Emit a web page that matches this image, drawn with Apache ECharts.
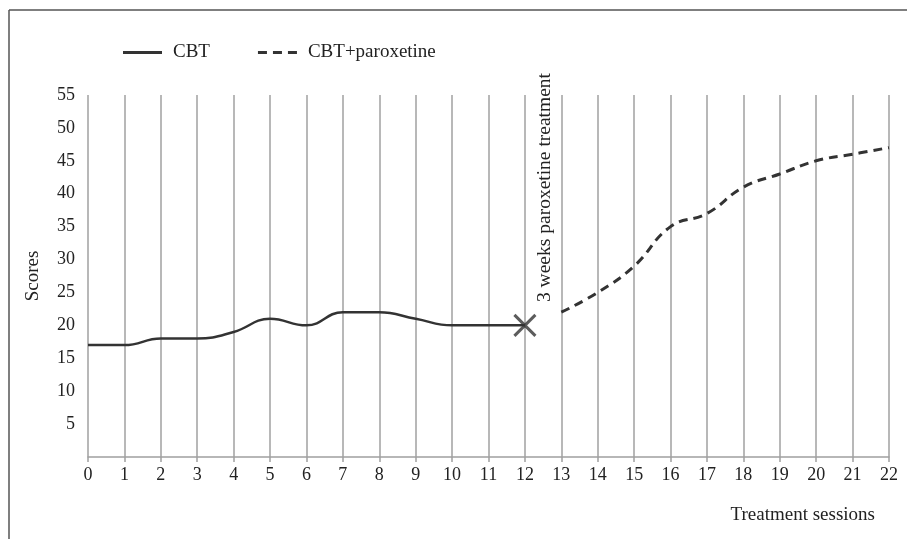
<!DOCTYPE html>
<html>
<head>
<meta charset="utf-8">
<script src="https://cdn.jsdelivr.net/npm/echarts@6/dist/echarts.min.js"></script>
<style>
html,body{margin:0;padding:0;background:#fff;}
#chart{width:907px;height:539px;}
</style>
</head>
<body>
<div id="chart"></div>
<script>
const cbtSessions = [0,1,2,3,4,5,6,7,8,9,10,11,12];
const cbtScores = [17,17,18,18,19,21,20,22,22,21,20,20,20];
const paroxSessions = [13,14,15,16,17,18,19,20,21,22];
const paroxScores = [22,25,29,35,37,41,43,45,46,47];
const markerPoint = [12,20];
const annotationText = '3 weeks paroxetine treatment';

const FONT = '"Liberation Serif", "DejaVu Serif", serif';
const pair = (xs, ys) => xs.map((x, i) => [x, ys[i]]);

const chart = echarts.init(document.getElementById('chart'));
chart.setOption({
  backgroundColor: '#fff',
  animation: false,
  textStyle: {fontFamily: FONT},
  legend: {
    left: 118, top: 38,
    itemWidth: 39, itemHeight: 3, itemGap: 48,
    textStyle: {fontFamily: FONT, fontSize: 19, color: '#222', padding: [0, 0, 0, 6]},
    data: [
      {name: 'CBT', icon: 'path://M0,0h39v3h-39z'},
      {name: 'CBT+paroxetine', icon: 'path://M0,0h9v3h-9zM15,0h9v3h-9zM30,0h9v3h-9z'}
    ]
  },
  grid: {left: 88, right: 18, top: 95, bottom: 82},
  xAxis: {
    type: 'value', min: 0, max: 22, interval: 1,
    axisLine: {show: true, lineStyle: {color: '#a0a0a0', width: 1.5}},
    axisTick: {show: true, length: 5, lineStyle: {color: '#a0a0a0', width: 1.5}},
    axisLabel: {fontFamily: FONT, fontSize: 18, color: '#222', margin: 9},
    splitLine: {show: true, lineStyle: {color: '#a0a0a0', width: 1.5}}
  },
  yAxis: {
    type: 'value', min: 0, max: 55, interval: 5,
    name: 'Scores', nameLocation: 'middle', nameRotate: 90, nameGap: 45,
    nameTextStyle: {fontFamily: FONT, fontSize: 19, color: '#222'},
    axisLine: {show: false}, axisTick: {show: false},
    splitLine: {show: false},
    axisLabel: {fontFamily: FONT, fontSize: 18, color: '#222', margin: 13,
      formatter: v => v === 0 ? '' : String(v)}
  },
  series: [
    {
      name: 'CBT', type: 'line', smooth: 0.45, symbol: 'none',
      lineStyle: {color: '#333', width: 2.5},
      itemStyle: {color: '#333'},
      data: pair(cbtSessions, cbtScores)
    },
    {
      name: 'CBT+paroxetine', type: 'line', smooth: 0.45, symbol: 'none',
      lineStyle: {color: '#333', width: 3, type: [9, 6]},
      itemStyle: {color: '#333'},
      data: pair(paroxSessions, paroxScores)
    },
    {
      name: 'marker', type: 'scatter',
      symbol: 'path://M0,0L10,10M10,0L0,10', symbolSize: 21,
      itemStyle: {color: 'none', borderColor: '#333', borderWidth: 3},
      data: [markerPoint], z: 5
    }
  ],
  graphic: [
    {type: 'line', shape: {x1: 9, y1: 10, x2: 907, y2: 10}, style: {stroke: '#555', lineWidth: 1.5}},
    {type: 'line', shape: {x1: 9, y1: 10, x2: 9, y2: 539}, style: {stroke: '#555', lineWidth: 1.5}},
    {type: 'text', x: 545, y: 302, rotation: Math.PI / 2,
      style: {text: annotationText, fontFamily: FONT, fontSize: 19.5, fill: '#222', textAlign: 'left', textVerticalAlign: 'middle'}},
    {type: 'text', x: 875, y: 515,
      style: {text: 'Treatment sessions', fontFamily: FONT, fontSize: 19, fill: '#222', textAlign: 'right', textVerticalAlign: 'middle'}}
  ]
});
</script>
</body>
</html>
